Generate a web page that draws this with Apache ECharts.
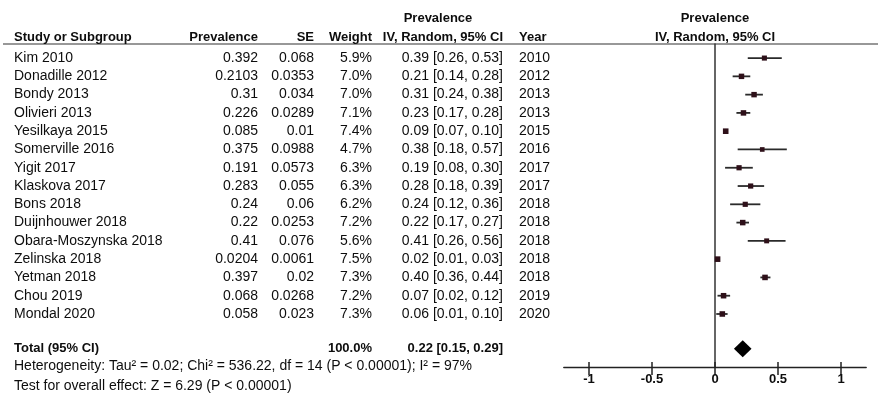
<!DOCTYPE html>
<html><head><meta charset="utf-8">
<script src="https://cdn.jsdelivr.net/npm/echarts@6/dist/echarts.min.js"></script>
<style>html,body{margin:0;padding:0;background:#fff}#c{width:878px;height:398px}</style>
</head><body><div id="c"></div>
<script>
const studies = ["Kim 2010","Donadille 2012","Bondy 2013","Olivieri 2013","Yesilkaya 2015","Somerville 2016","Yigit 2017","Klaskova 2017","Bons 2018","Duijnhouwer 2018","Obara-Moszynska 2018","Zelinska 2018","Yetman 2018","Chou 2019","Mondal 2020"];
const prevalence = ["0.392","0.2103","0.31","0.226","0.085","0.375","0.191","0.283","0.24","0.22","0.41","0.0204","0.397","0.068","0.058"];
const se = ["0.068","0.0353","0.034","0.0289","0.01","0.0988","0.0573","0.055","0.06","0.0253","0.076","0.0061","0.02","0.0268","0.023"];
const weight = [5.9,7.0,7.0,7.1,7.4,4.7,6.3,6.3,6.2,7.2,5.6,7.5,7.3,7.2,7.3];
const est = [0.39,0.21,0.31,0.23,0.09,0.38,0.19,0.28,0.24,0.22,0.41,0.02,0.40,0.07,0.06];
const lower = [0.26,0.14,0.24,0.17,0.07,0.18,0.08,0.18,0.12,0.17,0.26,0.01,0.36,0.02,0.01];
const upper = [0.53,0.28,0.38,0.28,0.10,0.57,0.30,0.39,0.36,0.27,0.56,0.03,0.44,0.12,0.10];
const years = ["2010","2012","2013","2013","2015","2016","2017","2017","2018","2018","2018","2018","2018","2019","2020"];
const totalLabel = "Total (95% CI)";
const totalWeight = "100.0%";
const totalEst = 0.22, totalLower = 0.15, totalUpper = 0.29;
const heterogeneity = "Heterogeneity: Tau\u00b2 = 0.02; Chi\u00b2 = 536.22, df = 14 (P < 0.00001); I\u00b2 = 97%";
const overallTest = "Test for overall effect: Z = 6.29 (P < 0.00001)";
const axisTicks = [-1, -0.5, 0, 0.5, 1];

const FONT = '"Liberation Sans", Arial, sans-serif';
const TXT = '#0d0d0d';
const rows = studies.map((s, i) => i);
const totalRow = 15.9;
const yMin = -0.77, yMax = 16.9;
const ciText = est.map((e, i) => e.toFixed(2) + ' [' + lower[i].toFixed(2) + ', ' + upper[i].toFixed(2) + ']');
const totalCi = totalEst.toFixed(2) + ' [' + totalLower.toFixed(2) + ', ' + totalUpper.toFixed(2) + ']';

function textColumn(x, align, texts, rowIdx, bold) {
  return {
    type: 'custom', xAxisIndex: 0, yAxisIndex: 0, silent: true, clip: false,
    data: rowIdx.map(r => [x, r]),
    renderItem: function (params, api) {
      const p = api.coord([api.value(0), api.value(1)]);
      return { type: 'text', x: p[0], y: p[1], style: {
        text: texts[params.dataIndex], textAlign: align, textVerticalAlign: 'middle',
        font: (bold ? 'bold 13px ' : '14px ') + FONT, fill: TXT } };
    }
  };
}

const chart = echarts.init(document.getElementById('c'), null, {renderer: 'canvas'});
const forestGrid = {left: 563.8, top: 44, width: 302.4, height: 323};
const option = {
  animation: false,
  backgroundColor: '#fff',
  grid: [
    {left: 0, top: 44, width: 560, height: 323},
    forestGrid,
    Object.assign({}, forestGrid)
  ],
  xAxis: [
    {gridIndex: 0, type: 'value', min: 0, max: 560, show: false},
    {gridIndex: 1, type: 'value', min: -1.2, max: 1.2, position: 'bottom',
      splitLine: {show: false},
      axisLine: {show: true, onZero: false, lineStyle: {color: '#222', width: 1.4}},
      axisTick: {show: true, customValues: axisTicks, length: 8, inside: false, lineStyle: {color: '#222', width: 1.5}},
      axisLabel: {show: true, customValues: axisTicks, margin: 6, color: TXT, fontFamily: FONT, fontSize: 13, fontWeight: 'bold',
        formatter: v => String(v)}},
    {gridIndex: 2, type: 'value', min: -1.2, max: 1.2, position: 'bottom',
      splitLine: {show: false}, axisLine: {show: false, onZero: false},
      axisTick: {show: true, customValues: axisTicks, length: 5, inside: true, lineStyle: {color: '#222', width: 1.5}},
      axisLabel: {show: false}}
  ],
  yAxis: [
    {gridIndex: 0, type: 'value', min: yMin, max: yMax, inverse: true, show: false},
    {gridIndex: 1, type: 'value', min: yMin, max: yMax, inverse: true,
      splitLine: {show: false}, axisTick: {show: false}, axisLabel: {show: false},
      axisLine: {show: true, onZero: true, lineStyle: {color: '#333', width: 1.5}}},
    {gridIndex: 2, type: 'value', min: yMin, max: yMax, inverse: true, show: false}
  ],
  series: [
    textColumn(14, 'left', studies, rows, false),
    textColumn(258, 'right', prevalence, rows, false),
    textColumn(314, 'right', se, rows, false),
    textColumn(372, 'right', weight.map(w => w.toFixed(1) + '%'), rows, false),
    textColumn(503, 'right', ciText, rows, false),
    textColumn(519, 'left', years, rows, false),
    textColumn(14, 'left', [totalLabel], [totalRow], true),
    textColumn(372, 'right', [totalWeight], [totalRow], true),
    textColumn(503, 'right', [totalCi], [totalRow], true),
    {
      type: 'custom', xAxisIndex: 1, yAxisIndex: 1, silent: true,
      data: rows.map(i => [lower[i], upper[i], parseFloat(prevalence[i]), i, weight[i]]),
      renderItem: function (params, api) {
        const a = api.coord([api.value(0), api.value(3)]);
        const b = api.coord([api.value(1), api.value(3)]);
        const c = api.coord([api.value(2), api.value(3)]);
        const s = 3 + api.value(4) * 0.35;
        return { type: 'group', children: [
          {type: 'line', shape: {x1: a[0], y1: a[1], x2: b[0], y2: b[1]}, style: {stroke: '#2a2a2a', lineWidth: 1.8}},
          {type: 'rect', shape: {x: c[0] - s / 2, y: c[1] - s / 2, width: s, height: s}, style: {fill: '#2e1019'}}
        ]};
      }
    },
    {
      type: 'custom', xAxisIndex: 1, yAxisIndex: 1, silent: true,
      data: [[totalLower, totalUpper, totalEst, totalRow]],
      renderItem: function (params, api) {
        const l = api.coord([api.value(0), api.value(3)]);
        const u = api.coord([api.value(1), api.value(3)]);
        const c = api.coord([api.value(2), api.value(3)]);
        const h = 8.5;
        return { type: 'polygon', shape: {points: [[l[0], l[1]], [c[0], c[1] - h], [u[0], u[1]], [c[0], c[1] + h]]},
          style: {fill: '#000'} };
      }
    }
  ],
  graphic: [
    {type: 'line', shape: {x1: 3, y1: 44, x2: 878, y2: 44}, style: {stroke: '#333', lineWidth: 1.2}},
    {type: 'text', x: 14, y: 37, style: {text: 'Study or Subgroup', textAlign: 'left', textVerticalAlign: 'middle', font: 'bold 13px ' + FONT, fill: TXT}},
    {type: 'text', x: 258, y: 37, style: {text: 'Prevalence', textAlign: 'right', textVerticalAlign: 'middle', font: 'bold 13px ' + FONT, fill: TXT}},
    {type: 'text', x: 314, y: 37, style: {text: 'SE', textAlign: 'right', textVerticalAlign: 'middle', font: 'bold 13px ' + FONT, fill: TXT}},
    {type: 'text', x: 372, y: 37, style: {text: 'Weight', textAlign: 'right', textVerticalAlign: 'middle', font: 'bold 13px ' + FONT, fill: TXT}},
    {type: 'text', x: 438, y: 18, style: {text: 'Prevalence', textAlign: 'center', textVerticalAlign: 'middle', font: 'bold 13px ' + FONT, fill: TXT}},
    {type: 'text', x: 503, y: 37, style: {text: 'IV, Random, 95% CI', textAlign: 'right', textVerticalAlign: 'middle', font: 'bold 13px ' + FONT, fill: TXT}},
    {type: 'text', x: 519, y: 37, style: {text: 'Year', textAlign: 'left', textVerticalAlign: 'middle', font: 'bold 13px ' + FONT, fill: TXT}},
    {type: 'text', x: 715, y: 18, style: {text: 'Prevalence', textAlign: 'center', textVerticalAlign: 'middle', font: 'bold 13px ' + FONT, fill: TXT}},
    {type: 'text', x: 715, y: 37, style: {text: 'IV, Random, 95% CI', textAlign: 'center', textVerticalAlign: 'middle', font: 'bold 13px ' + FONT, fill: TXT}},
    {type: 'text', x: 14, y: 366, style: {text: heterogeneity, textAlign: 'left', textVerticalAlign: 'middle', font: '14px ' + FONT, fill: TXT}},
    {type: 'text', x: 14, y: 386, style: {text: overallTest, textAlign: 'left', textVerticalAlign: 'middle', font: '14px ' + FONT, fill: TXT}}
  ]
};
chart.setOption(option);
</script></body></html>
